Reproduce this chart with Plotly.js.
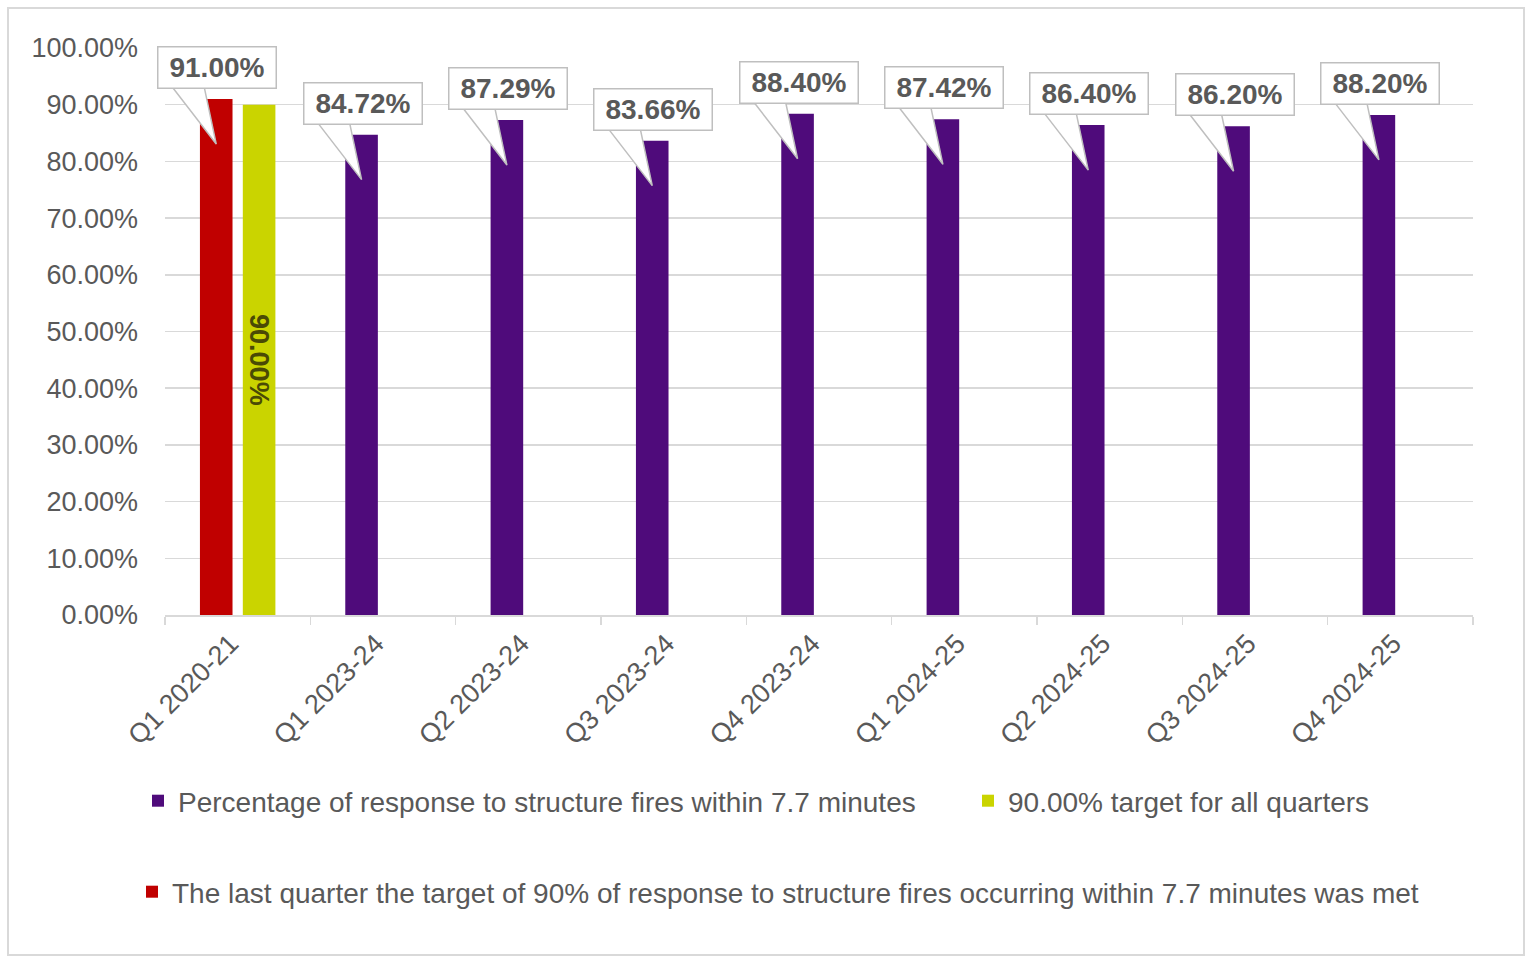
<!DOCTYPE html>
<html>
<head>
<meta charset="utf-8">
<script src="https://cdn.plot.ly/plotly-3.0.1.min.js"></script>
<style>
html,body{margin:0;padding:0;background:#fff;}
#chart{width:1536px;height:976px;}
</style>
</head>
<body>
<div id="chart"></div>
<script>
// ---- data ----
const categories = ['Q1 2020-21','Q1 2023-24','Q2 2023-24','Q3 2023-24','Q4 2023-24','Q1 2024-25','Q2 2024-25','Q3 2024-25','Q4 2024-25'];
const responseCategories = ['Q1 2023-24','Q2 2023-24','Q3 2023-24','Q4 2023-24','Q1 2024-25','Q2 2024-25','Q3 2024-25','Q4 2024-25'];
const responseValues = [84.72, 87.29, 83.66, 88.40, 87.42, 86.40, 86.20, 88.20];
const lastMetCategories = ['Q1 2020-21'];
const lastMetValues = [91.00];
const targetCategories = ['Q1 2020-21'];
const targetValues = [90.00];
const yTickValues = [0,10,20,30,40,50,60,70,80,90,100];

const seriesNames = {
  response: 'Percentage of response to structure fires within 7.7 minutes',
  target: '90.00% target for all quarters',
  lastMet: 'The last quarter the target of 90% of response to structure fires occurring within 7.7 minutes was met'
};

// ---- style ----
const FONT = '"Liberation Sans", Arial, sans-serif';
const GRAY = '#595959';
const PURPLE = '#4f0b7b';
const RED = '#c00000';
const GREEN = '#cad400';
const BARGAP = 0.41;
const PLOT_W = 1536 - 165 - 63;
const slotShift = -((1 - BARGAP) * PLOT_W / categories.length) / 4;

const traces = [
  {type:'bar', name: seriesNames.response, x: responseCategories, y: responseValues,
   marker:{color: PURPLE}, offsetgroup:'a', legend:'legend', hoverinfo:'x+y'},
  {type:'bar', name: seriesNames.target, x: targetCategories, y: targetValues,
   marker:{color: GREEN}, offsetgroup:'b', legend:'legend2',
   text: targetValues.map(v => v.toFixed(2) + '%'), textposition:'inside',
   insidetextanchor:'middle', textangle: 90, constraintext:'none',
   textfont:{family: FONT, size: 27, color:'#4a4a05', weight: 'bold'}, hoverinfo:'x+y'},
  {type:'bar', name: seriesNames.lastMet, x: lastMetCategories, y: lastMetValues,
   marker:{color: RED}, offsetgroup:'a', legend:'legend3', hoverinfo:'x+y'}
];

// callouts (box annotation + wedge shape anchored at each bar top)
const calloutPoints = [];
lastMetCategories.forEach((c,i) => calloutPoints.push([c, lastMetValues[i]]));
responseCategories.forEach((c,i) => calloutPoints.push([c, responseValues[i]]));

const annotations = [];
const shapes = [];
calloutPoints.forEach(([c, v]) => {
  annotations.push({
    x: c, y: v, xref:'x', yref:'y', xshift: slotShift + 1, yshift: 10,
    xanchor:'center', yanchor:'bottom', showarrow:false,
    text: '<b>' + v.toFixed(2) + '%</b>',
    font:{family: FONT, size: 28, color: GRAY},
    bgcolor:'#ffffff', bordercolor:'#bfbfbf', borderwidth:1.5, borderpad:1,
    width: 115, height: 38
  });
  const s = slotShift;
  shapes.push({
    type:'path', xref:'x', yref:'y', xsizemode:'pixel', ysizemode:'pixel',
    xanchor: c, yanchor: v,
    path: `M${s-44},12 L${s},-45 L${s-12},12`,
    fillcolor:'#ffffff', line:{color:'#bfbfbf', width:1.5}, layer:'above'
  });
});

// outer frame
shapes.push({type:'rect', xref:'paper', yref:'paper',
  x0:(8-165)/PLOT_W, x1:(1524-165)/PLOT_W, y0:(615-955)/567, y1:(615-8)/567,
  line:{color:'#d9d9d9', width:2}, fillcolor:'rgba(0,0,0,0)', layer:'below'});

const legendBase = {orientation:'h', yanchor:'middle', xanchor:'left',
  font:{family: FONT, size: 28, color: GRAY}, bgcolor:'rgba(0,0,0,0)', borderwidth:0};

const layout = {
  width:1536, height:976,
  margin:{l:165, r:63, t:48, b:361},
  paper_bgcolor:'#ffffff', plot_bgcolor:'#ffffff',
  font:{family: FONT, color: GRAY},
  barmode:'group', bargap: BARGAP, bargroupgap: 0.24,
  showlegend:true,
  legend: Object.assign({}, legendBase, {x:(138-165)/PLOT_W, y:(615-801)/567}),
  legend2: Object.assign({}, legendBase, {x:(968-165)/PLOT_W, y:(615-801)/567}),
  legend3: Object.assign({}, legendBase, {x:(132-165)/PLOT_W, y:(615-892)/567}),
  xaxis:{type:'category', categoryorder:'array', categoryarray: categories,
    range:[-0.5, categories.length - 0.5], autorange:false,
    tickangle:-45, tickson:'boundaries', ticks:'outside', ticklen:8, tickcolor:'#d9d9d9', tickwidth:1.5,
    ticklabelshift:-7,
    showline:true, linecolor:'#d9d9d9', linewidth:2, showgrid:false,
    tickfont:{family: FONT, size: 27, color: GRAY}, fixedrange:true},
  yaxis:{range:[0,100], tickvals: yTickValues, ticktext: yTickValues.map(v => v.toFixed(2) + '%'),
    showgrid:true, gridcolor:'#d9d9d9', gridwidth:1.5, zeroline:false, showline:false,
    ticks:'', ticklabelstandoff: 26,
    tickfont:{family: FONT, size: 27, color: GRAY}, fixedrange:true},
  annotations: annotations,
  shapes: shapes
};

Plotly.newPlot('chart', traces, layout, {displayModeBar:false, staticPlot:true});
</script>
</body>
</html>
